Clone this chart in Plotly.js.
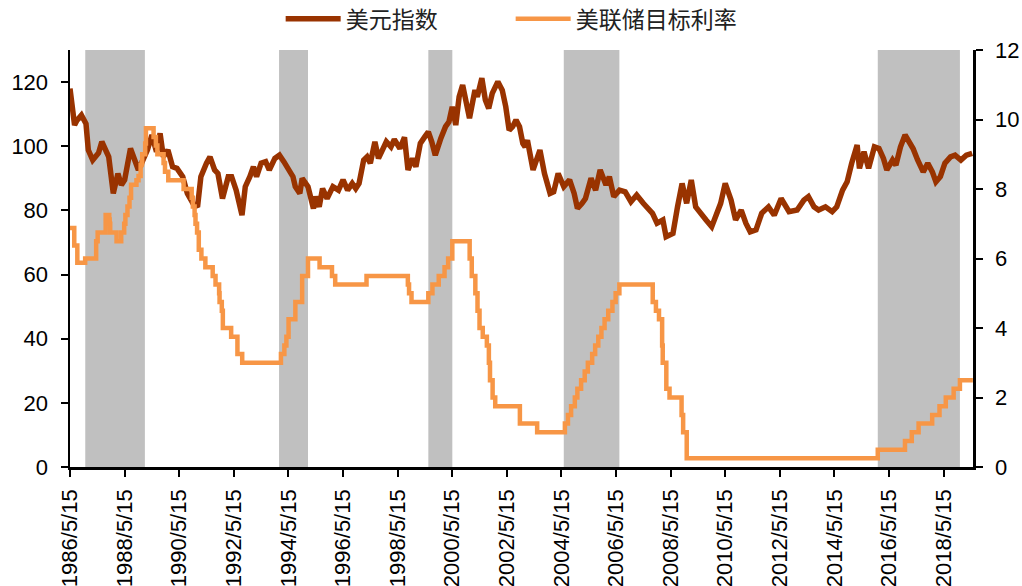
<!DOCTYPE html>
<html>
<head>
<meta charset="utf-8">
<script src="https://cdn.plot.ly/plotly-3.0.1.min.js"></script>
<style>html,body{margin:0;padding:0;background:#fff;}#chart{width:1022px;height:586px;}</style>
</head>
<body>
<div id="chart"></div>
<script>
// ---- Data ----
var seriesNames = ['美元指数', '美联储目标利率'];

var dxyDates = ['1986-05-15','1986-06-15','1986-07-15','1986-08-15','1986-10-15','1986-12-15','1987-01-15','1987-03-15','1987-06-01','1987-07-15','1987-10-15','1987-12-15','1988-02-15','1988-04-01','1988-05-15','1988-08-01','1988-10-01','1988-11-15','1989-01-15','1989-03-15','1989-05-15','1989-07-15','1989-09-01','1989-10-15','1989-12-15','1990-02-15','1990-04-15','1990-07-01','1990-09-01','1990-11-15','1991-01-15','1991-03-01','1991-05-15','1991-07-01','1991-09-01','1991-10-15','1991-12-15','1992-03-01','1992-04-15','1992-06-15','1992-09-01','1992-10-15','1992-12-15','1993-02-01','1993-03-15','1993-05-15','1993-07-15','1993-09-01','1993-11-15','1994-01-15','1994-03-15','1994-06-01','1994-07-15','1994-08-15','1994-09-15','1994-10-15','1994-11-15','1995-02-01','1995-04-15','1995-05-15','1995-07-01','1995-08-15','1995-10-15','1996-01-01','1996-03-15','1996-05-15','1996-07-15','1996-09-15','1996-11-01','1996-12-15','1997-02-15','1997-04-01','1997-05-15','1997-07-15','1997-09-01','1997-12-15','1998-02-15','1998-04-01','1998-06-15','1998-08-15','1998-10-01','1998-12-01','1999-01-15','1999-03-15','1999-05-15','1999-06-30','1999-08-15','1999-10-01','1999-12-15','2000-02-15','2000-04-01','2000-05-15','2000-07-01','2000-08-15','2000-10-01','2000-11-15','2001-01-01','2001-03-15','2001-04-15','2001-06-15','2001-08-01','2001-09-15','2001-11-01','2002-01-15','2002-03-15','2002-05-01','2002-06-15','2002-08-01','2002-09-15','2002-11-01','2002-12-15','2003-01-15','2003-02-15','2003-05-01','2003-08-01','2003-10-01','2003-12-15','2004-02-01','2004-04-01','2004-06-15','2004-09-01','2004-11-01','2004-12-15','2005-02-15','2005-04-01','2005-06-15','2005-08-15','2005-10-15','2006-01-01','2006-02-15','2006-04-15','2006-07-01','2006-09-15','2006-12-01','2007-02-15','2007-05-15','2007-07-15','2007-09-15','2007-11-15','2008-02-01','2008-03-15','2008-06-15','2008-08-15','2008-10-15','2008-12-15','2009-02-15','2009-04-15','2009-07-01','2009-09-01','2009-11-15','2010-01-15','2010-03-15','2010-05-15','2010-08-01','2010-10-01','2010-12-15','2011-02-15','2011-04-15','2011-07-01','2011-09-15','2011-12-15','2012-03-01','2012-06-01','2012-09-15','2013-01-01','2013-04-01','2013-06-01','2013-08-15','2013-10-15','2014-01-15','2014-04-15','2014-06-15','2014-09-01','2014-11-01','2015-01-01','2015-03-15','2015-04-15','2015-06-15','2015-08-15','2015-11-01','2016-01-01','2016-03-01','2016-04-15','2016-07-01','2016-08-15','2016-10-15','2016-12-15','2017-02-01','2017-04-01','2017-06-01','2017-08-15','2017-10-15','2017-12-15','2018-02-01','2018-04-01','2018-06-01','2018-08-15','2018-10-15','2019-01-01','2019-03-15','2019-06-01'];
var dxyValues = [118,111,106.6,108,109.7,107,98.8,95.7,97.9,101.4,96.7,85.3,91.5,87.9,89.5,99.3,95.7,92.6,95.7,98.8,103.5,98.3,104,96.7,98.8,93.6,93.1,90.5,85.3,82.2,81.1,90.5,94.7,96.7,92.6,91.5,83.7,90.5,90.5,86.3,78.5,87.4,90.5,93.6,90.5,94.7,95.2,92.6,96.2,97.2,95.2,92,90.5,87.4,86.3,85.3,90,87.4,80.6,84.3,81.1,86.8,83.7,87.4,86.3,89.5,86.3,88.4,86.8,88.4,95.7,96.7,94.7,101.4,96.2,101.4,99.8,102.1,99.3,102.8,92.6,96.2,93.6,100.9,103,104.5,101.4,97.2,102.5,106.1,107.6,112.3,106.6,115.4,119.1,113.4,108.7,117.5,115.4,121.2,114.4,111.8,116.5,120.1,117.5,112.3,105,106.1,108.2,106.1,100.9,99.8,101.9,92.6,98.8,91.5,85.3,85.8,91.5,87.4,89.5,85.3,80.6,82.2,83.7,90,86.3,92.6,87.9,90.5,84.3,86.3,85.8,82.7,84.8,82.2,80.6,79.1,76,77,71.8,72.8,81.1,88.4,82.2,89.5,81.1,79.1,77,74.9,79.1,82.2,88.4,83.2,77,80.1,76,73.3,73.9,79.1,81.1,78.5,83.7,79.6,80.1,83.2,84.3,81.1,80.1,81.1,79.6,81.1,86.3,88.9,94.7,100.4,93.1,98.3,93.1,99.8,99.3,96.2,92.6,95.7,94.1,99.8,103.5,101.9,99.3,95.7,92,94.7,92,88.9,90.5,94.7,96.7,97.2,95.7,97.2,97.8];

var rateDates = ['1986-05-15','1986-07-11','1986-08-21','1986-12-04','1987-04-30','1987-05-20','1987-09-04','1987-10-22','1987-10-28','1987-11-04','1988-01-28','1988-03-30','1988-05-09','1988-05-25','1988-06-22','1988-07-19','1988-08-09','1988-10-20','1988-11-17','1988-12-15','1988-12-29','1989-01-05','1989-02-14','1989-02-24','1989-06-06','1989-07-07','1989-07-27','1989-10-18','1989-11-06','1989-12-20','1990-07-13','1990-10-29','1990-11-14','1990-12-07','1990-12-19','1991-01-09','1991-02-01','1991-03-08','1991-04-30','1991-08-06','1991-09-13','1991-10-31','1991-11-06','1991-12-06','1991-12-20','1992-04-09','1992-07-02','1992-09-04','1994-02-04','1994-03-22','1994-04-18','1994-05-17','1994-08-16','1994-11-15','1995-02-01','1995-07-06','1995-12-19','1996-01-31','1997-03-25','1998-09-29','1998-10-15','1998-11-17','1999-06-30','1999-08-24','1999-11-16','2000-02-02','2000-03-21','2000-05-16','2001-01-03','2001-01-31','2001-03-20','2001-04-18','2001-05-15','2001-06-27','2001-08-21','2001-09-17','2001-10-02','2001-11-06','2001-12-11','2002-11-06','2003-06-25','2004-06-30','2004-08-10','2004-09-21','2004-11-10','2004-12-14','2005-02-02','2005-03-22','2005-05-03','2005-06-30','2005-08-09','2005-09-20','2005-11-01','2005-12-13','2006-01-31','2006-03-28','2006-05-10','2006-06-29','2007-09-18','2007-10-31','2007-12-11','2008-01-22','2008-01-30','2008-03-18','2008-04-30','2008-10-08','2008-10-29','2008-12-16','2015-12-16','2016-12-14','2017-03-15','2017-06-14','2017-12-13','2018-03-21','2018-06-13','2018-09-26','2018-12-19','2019-06-10'];
var rateValues = [6.875,6.375,5.875,6.0,6.5,6.75,7.25,7.125,7.0,6.75,6.5,6.75,7.0,7.25,7.5,7.75,8.125,8.25,8.375,8.6875,8.75,9.0,9.3125,9.75,9.5,9.25,9.0,8.75,8.5,8.25,8.0,7.75,7.5,7.25,7.0,6.75,6.25,6.0,5.75,5.5,5.25,5.0,4.75,4.5,4.0,3.75,3.25,3.0,3.25,3.5,3.75,4.25,4.75,5.5,6.0,5.75,5.5,5.25,5.5,5.25,5.0,4.75,5.0,5.25,5.5,5.75,6.0,6.5,6.0,5.5,5.0,4.5,4.0,3.75,3.5,3.0,2.5,2.0,1.75,1.25,1.0,1.25,1.5,1.75,2.0,2.25,2.5,2.75,3.0,3.25,3.5,3.75,4.0,4.25,4.5,4.75,5.0,5.25,4.75,4.5,4.25,3.5,3.0,2.25,2.0,1.5,1.0,0.25,0.5,0.75,1.0,1.25,1.5,1.75,2.0,2.25,2.5,2.5];

// Rate-hike periods (shaded)
var hikeStart = ['1986-12-05','1994-01-10','1999-06-30','2004-06-15','2015-12-16'];
var hikeEnd   = ['1989-02-10','1995-02-01','2000-05-16','2006-06-29','2018-12-19'];

var xTickLabels = ['1986/5/15','1988/5/15','1990/5/15','1992/5/15','1994/5/15','1996/5/15','1998/5/15','2000/5/15','2002/5/15','2004/5/15','2006/5/15','2008/5/15','2010/5/15','2012/5/15','2014/5/15','2016/5/15','2018/5/15'];
var yTicks  = [0,20,40,60,80,100,120];
var y2Ticks = [0,2,4,6,8,10,12];

// ---- Build ----
function toIso(lbl){
  var p = lbl.split('/');
  return p[0] + '-' + (p[1].length<2?'0'+p[1]:p[1]) + '-' + (p[2].length<2?'0'+p[2]:p[2]);
}
var xTickVals = xTickLabels.map(toIso);

var shapes = hikeStart.map(function(s,i){
  return {type:'rect', xref:'x', yref:'paper', x0:s, x1:hikeEnd[i], y0:0, y1:1,
          fillcolor:'#c0c0c0', line:{width:0}, layer:'below'};
});

var yFont = {family:'"Liberation Sans", Arial, sans-serif', size:22, color:'#000'};
var xFont = {family:'"Liberation Sans", Arial, sans-serif', size:22, color:'#000'};

var traces = [
  {x:dxyDates, y:dxyValues, name:seriesNames[0], type:'scatter', mode:'lines',
   line:{color:'#993300', width:5.5, shape:'linear'}, yaxis:'y'},
  {x:rateDates, y:rateValues, name:seriesNames[1], type:'scatter', mode:'lines',
   line:{color:'#F79646', width:4.5, shape:'hv'}, yaxis:'y2'}
];

var layout = {
  width:1022, height:586,
  margin:{l:70, r:49, t:50, b:119, autoexpand:false},
  paper_bgcolor:'#fff', plot_bgcolor:'rgba(0,0,0,0)',
  showlegend:true,
  legend:{orientation:'h', x:0.488, xanchor:'center', y:1.075, yanchor:'middle',
          font:{family:'"Noto Sans CJK SC", sans-serif', size:23, color:'#222'},
          entrywidth:160, itemwidth:55, bgcolor:'rgba(0,0,0,0)'},
  xaxis:{type:'date', range:['1986-05-15','2019-06-12'], tickmode:'array',
         tickvals:xTickVals, ticktext:xTickLabels, tickangle:-90,
         ticks:'outside', ticklen:7, tickwidth:2, tickcolor:'#000', ticklabelstandoff:4,
         showline:true, linecolor:'#000', linewidth:2.5, showgrid:false, zeroline:false,
         tickfont:xFont, automargin:false},
  yaxis:{range:[0,130], tickmode:'array', tickvals:yTicks,
         ticks:'outside', ticklen:7, tickwidth:2, tickcolor:'#000', ticklabelstandoff:8,
         showline:true, linecolor:'#000', linewidth:2.5, showgrid:false, zeroline:false,
         tickfont:yFont, automargin:false},
  yaxis2:{range:[0,12], tickmode:'array', tickvals:y2Ticks, overlaying:'y', side:'right',
         ticks:'outside', ticklen:7, tickwidth:2, tickcolor:'#000', ticklabelstandoff:8,
         showline:true, linecolor:'#000', linewidth:2.5, showgrid:false, zeroline:false,
         tickfont:yFont, automargin:false},
  shapes:shapes
};

Plotly.newPlot('chart', traces, layout, {displayModeBar:false, staticPlot:true});
</script>
</body>
</html>
